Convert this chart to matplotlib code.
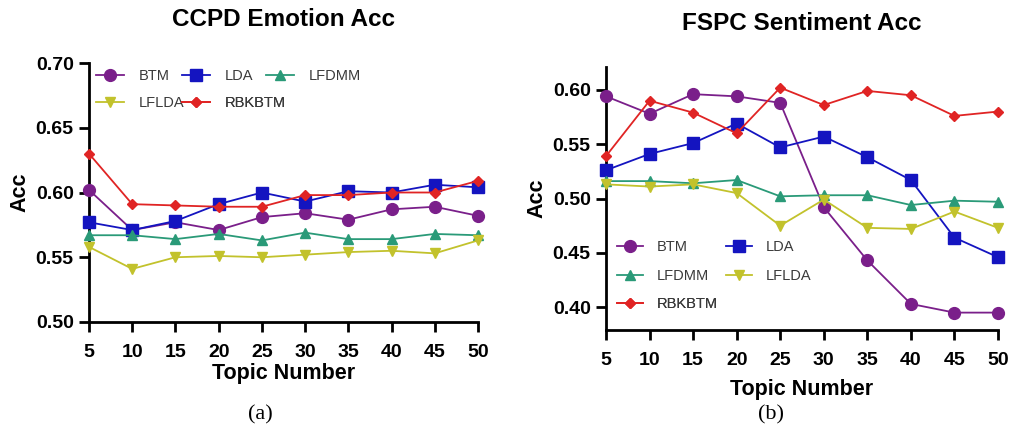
import matplotlib
matplotlib.use("Agg")
import matplotlib.pyplot as plt

topics = [5, 10, 15, 20, 25, 30, 35, 40, 45, 50]
series_names = ["BTM", "LDA", "LFDMM", "LFLDA", "RBKBTM"]

ccpd_btm = [0.602, 0.571, 0.577, 0.571, 0.581, 0.584, 0.579, 0.587, 0.589, 0.582]
ccpd_lda = [0.577, 0.571, 0.578, 0.591, 0.600, 0.593, 0.601, 0.600, 0.606, 0.604]
ccpd_lfdmm = [0.567, 0.567, 0.564, 0.568, 0.563, 0.569, 0.564, 0.564, 0.568, 0.567]
ccpd_lflda = [0.558, 0.541, 0.550, 0.551, 0.550, 0.552, 0.554, 0.555, 0.553, 0.563]
ccpd_rbkbtm = [0.630, 0.591, 0.590, 0.589, 0.589, 0.598, 0.598, 0.600, 0.600, 0.609]

fspc_btm = [0.594, 0.578, 0.596, 0.594, 0.588, 0.492, 0.443, 0.403, 0.395, 0.395]
fspc_lda = [0.526, 0.541, 0.551, 0.569, 0.547, 0.557, 0.538, 0.517, 0.464, 0.446]
fspc_lfdmm = [0.516, 0.516, 0.514, 0.517, 0.502, 0.503, 0.503, 0.494, 0.498, 0.497]
fspc_lflda = [0.513, 0.511, 0.513, 0.505, 0.475, 0.499, 0.473, 0.472, 0.488, 0.473]
fspc_rbkbtm = [0.539, 0.590, 0.579, 0.560, 0.602, 0.586, 0.599, 0.595, 0.576, 0.580]

colors = ["#7A1F8A", "#1414C0", "#2A9A78", "#C2C22C", "#E02424"]
markers = ["o", "s", "^", "v", "D"]
msizes = [8.5, 8, 7, 7, 5]

plt.rcParams['font.family'] = ['Liberation Sans', 'DejaVu Sans']

W, H = 1009, 432
fig = plt.figure(figsize=(W / 100, H / 100), dpi=100)
ax1 = fig.add_axes([89/W, 1-322/H, (478-89)/W, (322-63)/H])
ax2 = fig.add_axes([606/W, 1-330/H, (998-606)/W, (330-67)/H])

def draw(ax, data, ylim, yticks):
    lines = []
    for vals, name, c, m, ms in zip(data, series_names, colors, markers, msizes):
        ln, = ax.plot(topics, vals, color=c, marker=m, markersize=ms, linewidth=1.3,
                      label=name, clip_on=False, zorder=3)
        lines.append(ln)
    ax.set_xlim(5, 50)
    ax.set_ylim(*ylim)
    ax.set_xticks(topics)
    ax.set_yticks(yticks)
    ax.set_yticklabels([f"{v:.2f}" for v in yticks])
    for s in ["top", "right"]:
        ax.spines[s].set_visible(False)
    for s in ["left", "bottom"]:
        ax.spines[s].set_linewidth(2)
    ax.tick_params(width=2, length=7, labelsize=14, direction="out", pad=4)
    ax.tick_params(axis="x", pad=9)
    for lab in ax.get_xticklabels() + ax.get_yticklabels():
        lab.set_fontweight("bold")
    ax.set_ylabel("Acc", fontsize=15.5, fontweight="bold", labelpad=4)
    ax.set_xlabel("Topic Number", fontsize=15.5, fontweight="bold")
    return lines

lines1 = draw(ax1, [ccpd_btm, ccpd_lda, ccpd_lfdmm, ccpd_lflda, ccpd_rbkbtm],
              (0.50, 0.70), [0.50, 0.55, 0.60, 0.65, 0.70])
lines2 = draw(ax2, [fspc_btm, fspc_lda, fspc_lfdmm, fspc_lflda, fspc_rbkbtm],
              (0.379, 0.621), [0.40, 0.45, 0.50, 0.55, 0.60])

ax1.xaxis.labelpad = 1
ax2.xaxis.labelpad = 7

# legend entry positions (handle start x, row centre y) in pixels
pos1 = [(96, 76), (182, 76), (266, 76), (96, 103), (182, 103)]
pos2 = [(617, 247), (726, 247), (617, 276), (726, 276), (617, 304)]

def place_legends(ax, lines, positions, hl):
    for ln, (px, py) in zip(lines, positions):
        leg = ax.legend([ln], [ln.get_label()], loc="center left",
                        bbox_to_anchor=(px / W, 1 - py / H),
                        bbox_transform=fig.transFigure, frameon=False,
                        fontsize=10.5, handlelength=hl, handletextpad=1.0,
                        borderpad=0, borderaxespad=0)
        for t in leg.get_texts():
            t.set_color("#3a3a3a")
        ax.add_artist(leg)

place_legends(ax1, lines1, pos1, 1.9)
place_legends(ax2, lines2, pos2, 1.75)

fig.text(283/W, 1-20/H, "CCPD Emotion Acc", ha="center", va="center",
         fontsize=17.5, fontweight="bold")
fig.text(802/W, 1-24/H, "FSPC Sentiment Acc", ha="center", va="center",
         fontsize=17.5, fontweight="bold")
fig.text(260/W, 1-415/H, "(a)", ha="center", va="center", fontsize=16,
         family=["Liberation Serif", "DejaVu Serif"])
fig.text(771/W, 1-415/H, "(b)", ha="center", va="center", fontsize=16,
         family=["Liberation Serif", "DejaVu Serif"])

fig.savefig("out.png", dpi=100, facecolor="white")
